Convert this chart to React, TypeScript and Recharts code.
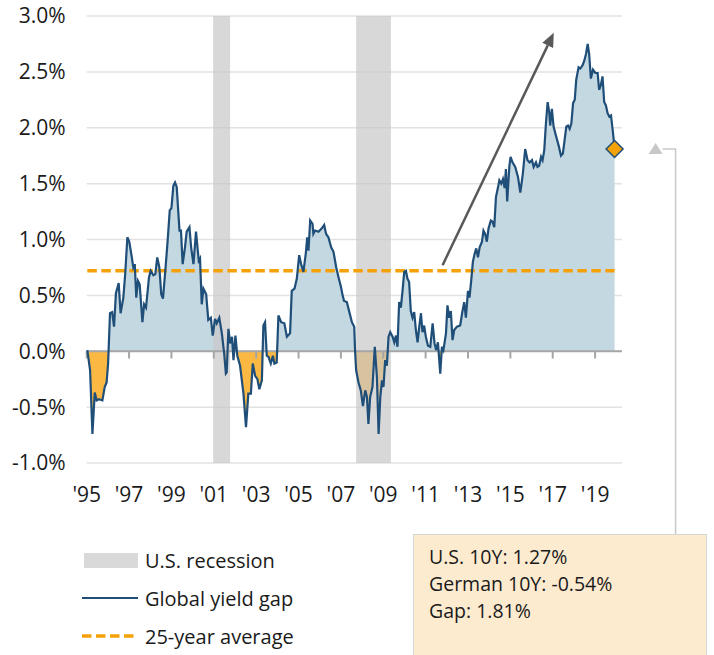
import React from "react";
import {
  Area,
  CartesianGrid,
  ComposedChart,
  Line,
  ReferenceArea,
  ReferenceDot,
  ReferenceLine,
  XAxis,
  YAxis,
} from "recharts";

// monthly-ish readings of the global yield gap (US 10Y minus German 10Y), in %
const YEARS = [
  1995.03, 1995.16, 1995.27, 1995.38, 1995.47, 1995.58, 1995.74, 1995.85, 1995.94, 1996.01,
  1996.1, 1996.2, 1996.29, 1996.38, 1996.51, 1996.6, 1996.73, 1996.82, 1996.92, 1997.01,
  1997.13, 1997.2, 1997.27, 1997.34, 1997.42, 1997.5, 1997.63, 1997.71, 1997.8, 1997.94,
  1998.02, 1998.15, 1998.24, 1998.33, 1998.43, 1998.52, 1998.6, 1998.71, 1998.81, 1998.92,
  1999.0, 1999.09, 1999.17, 1999.25, 1999.38, 1999.45, 1999.53, 1999.64, 1999.72, 1999.85,
  1999.93, 2000.04, 2000.16, 2000.23, 2000.29, 2000.35, 2000.43, 2000.51, 2000.64, 2000.74,
  2000.86, 2000.95, 2001.06, 2001.14, 2001.26, 2001.38, 2001.49, 2001.57, 2001.61, 2001.69,
  2001.77, 2001.86, 2001.93, 2002.02, 2002.11, 2002.24, 2002.4, 2002.52, 2002.63, 2002.75,
  2002.84, 2002.95, 2003.06, 2003.15, 2003.27, 2003.34, 2003.42, 2003.5, 2003.58, 2003.69,
  2003.79, 2003.86, 2003.97, 2004.05, 2004.18, 2004.33, 2004.45, 2004.6, 2004.68, 2004.81,
  2004.92, 2005.03, 2005.12, 2005.23, 2005.34, 2005.41, 2005.47, 2005.55, 2005.66, 2005.7,
  2005.78, 2005.94, 2006.1, 2006.21, 2006.3, 2006.41, 2006.54, 2006.65, 2006.78, 2006.89,
  2007.01, 2007.08, 2007.15, 2007.28, 2007.4, 2007.52, 2007.63, 2007.67, 2007.72, 2007.83,
  2007.94, 2008.04, 2008.15, 2008.23, 2008.3, 2008.38, 2008.49, 2008.6, 2008.7, 2008.78,
  2008.86, 2008.94, 2009.01, 2009.09, 2009.17, 2009.25, 2009.33, 2009.44, 2009.52, 2009.6,
  2009.67, 2009.75, 2009.83, 2009.91, 2009.99, 2010.07, 2010.14, 2010.22, 2010.3, 2010.38,
  2010.46, 2010.54, 2010.62, 2010.7, 2010.78, 2010.85, 2010.93, 2011.01, 2011.11, 2011.22,
  2011.33, 2011.42, 2011.5, 2011.58, 2011.69, 2011.77, 2011.84, 2011.96, 2012.03, 2012.11,
  2012.19, 2012.27, 2012.35, 2012.48, 2012.63, 2012.74, 2012.82, 2012.9, 2013.0, 2013.07,
  2013.15, 2013.23, 2013.31, 2013.39, 2013.47, 2013.55, 2013.66, 2013.73, 2013.81, 2013.89,
  2013.97, 2014.08, 2014.16, 2014.24, 2014.32, 2014.41, 2014.48, 2014.57, 2014.65, 2014.73,
  2014.79, 2014.85, 2014.95, 2015.01, 2015.1, 2015.23, 2015.36, 2015.47, 2015.59, 2015.7,
  2015.81, 2015.91, 2016.02, 2016.1, 2016.21, 2016.28, 2016.36, 2016.45, 2016.52, 2016.6,
  2016.68, 2016.76, 2016.84, 2016.88, 2016.96, 2017.04, 2017.15, 2017.28, 2017.39, 2017.48,
  2017.56, 2017.64, 2017.72, 2017.8, 2017.88, 2017.96, 2018.04, 2018.11, 2018.22, 2018.3,
  2018.41, 2018.49, 2018.57, 2018.65, 2018.72, 2018.8, 2018.9, 2019.01, 2019.12, 2019.19,
  2019.27, 2019.35, 2019.43, 2019.51, 2019.59, 2019.67, 2019.75, 2019.83, 2019.88, 2019.92,
];

const GAP = [
  0.01, -0.17, -0.74, -0.37, -0.44, -0.43, -0.44, -0.32, -0.28, -0.11,
  0.34, 0.35, 0.22, 0.52, 0.61, 0.34, 0.48, 0.7, 1.02, 0.98,
  0.84, 0.75, 0.78, 0.48, 0.63, 0.6, 0.26, 0.42, 0.39, 0.66,
  0.72, 0.68, 0.69, 0.84, 0.75, 0.51, 0.47, 0.72, 0.96, 1.26,
  1.28, 1.48, 1.51, 1.47, 1.08, 1.08, 0.78, 0.93, 1.07, 1.11,
  0.93, 0.78, 1.07, 0.93, 0.81, 0.83, 0.42, 0.56, 0.51, 0.28,
  0.3, 0.14, 0.29, 0.25, 0.3, 0.16, -0.02, -0.2, -0.19, 0.2,
  0.07, 0.13, -0.08, 0.14, -0.04, -0.13, -0.38, -0.68, -0.38, -0.38,
  -0.11, -0.22, -0.25, -0.34, -0.26, 0.23, 0.26, -0.04, -0.05, -0.11,
  -0.04, -0.11, -0.1, 0.32, 0.26, 0.25, 0.13, 0.16, 0.54, 0.56,
  0.65, 0.86, 0.78, 0.71, 0.87, 1.02, 0.9, 1.17, 1.14, 1.05,
  1.08, 1.07, 1.1, 1.13, 1.05, 1.02, 0.93, 0.89, 0.75, 0.66,
  0.57, 0.5, 0.45, 0.44, 0.35, 0.26, 0.22, 0.0, -0.17, -0.28,
  -0.35, -0.49, -0.35, -0.41, -0.65, -0.41, -0.32, 0.04, -0.23, -0.74,
  -0.41, -0.26, -0.32, -0.08, -0.13, 0.13, 0.17, 0.13, 0.08, 0.14,
  0.04, 0.44, 0.39, 0.54, 0.71, 0.72, 0.65, 0.62, 0.36, 0.3,
  0.35, 0.19, 0.08, 0.22, 0.34, 0.17, 0.23, 0.13, 0.05, 0.04,
  0.25, 0.07, 0.01, 0.08, -0.2, 0.04, 0.01, 0.16, 0.41, 0.3,
  0.36, 0.1, 0.19, 0.22, 0.23, 0.36, 0.44, 0.3, 0.54, 0.48,
  0.63, 0.8, 0.87, 0.92, 0.84, 0.93, 0.98, 1.08, 1.05, 0.98,
  1.1, 1.17, 1.16, 1.11, 1.38, 1.46, 1.53, 1.5, 1.54, 1.46,
  1.63, 1.34, 1.65, 1.74, 1.69, 1.65, 1.56, 1.42, 1.59, 1.81,
  1.71, 1.69, 1.71, 1.65, 1.69, 1.65, 1.66, 1.74, 1.71, 1.8,
  2.04, 2.23, 2.13, 2.02, 2.17, 2.01, 1.93, 1.84, 1.75, 1.77,
  1.89, 2.01, 2.02, 1.99, 2.04, 2.22, 2.25, 2.43, 2.54, 2.53,
  2.56, 2.6, 2.66, 2.75, 2.66, 2.44, 2.52, 2.49, 2.49, 2.34,
  2.38, 2.46, 2.23, 2.2, 2.13, 2.1, 2.11, 1.98, 1.89, 1.81,
];

const AVERAGE = 0.72;
const X_TICKS = [1995, 1997, 1999, 2001, 2003, 2005, 2007, 2009, 2011, 2013, 2015, 2017, 2019];
const Y_TICKS = [-1, -0.5, 0, 0.5, 1, 1.5, 2, 2.5, 3];
const RECESSIONS = [
  [2000.97, 2001.77],
  [2007.72, 2009.36],
];
const TREND_ARROW = [
  { x: 2011.8, y: 0.77 },
  { x: 2017.05, y: 2.85 },
];
const CALLOUT_LINES = ["U.S. 10Y: 1.27%", "German 10Y: -0.54%", "Gap: 1.81%"];

const data = YEARS.map((x, i) => ({ x, gap: GAP[i], avg: AVERAGE }));
const last = data[data.length - 1];
const gapMax = Math.max(...GAP);
const gapMin = Math.min(...GAP);
const zeroOffset = gapMax / (gapMax - gapMin);

const FONT = "'Open Sans', sans-serif";
const NAVY = "#1f4e79";
const ORANGE = "#f5a20a";
const BOX_TOP = 534;

function ArrowShape(props: any) {
  const { x1, y1, x2, y2 } = props;
  const ang = Math.atan2(y2 - y1, x2 - x1);
  const len = 14;
  const w = 6;
  const bx = x2 - len * Math.cos(ang);
  const by = y2 - len * Math.sin(ang);
  const px = -Math.sin(ang) * w;
  const py = Math.cos(ang) * w;
  return (
    <g>
      <line x1={x1} y1={y1} x2={bx} y2={by} stroke="#595959" strokeWidth={2.5} />
      <polygon
        points={`${x2},${y2} ${bx + px},${by + py} ${bx - px},${by - py}`}
        fill="#595959"
      />
    </g>
  );
}

function EndMarker(props: any) {
  const { cx, cy } = props;
  const r = 8.5;
  return (
    <g>
      <polyline
        points={`${cx + 48},${cy} ${cx + 61},${cy} ${cx + 61},${BOX_TOP}`}
        fill="none"
        stroke="#c8c8c8"
        strokeWidth={1.5}
      />
      <polygon
        points={`${cx + 41},${cy - 6} ${cx + 48},${cy + 5} ${cx + 34},${cy + 5}`}
        fill="#c8c8c8"
      />
      <polygon
        points={`${cx},${cy - r} ${cx + r},${cy} ${cx},${cy + r} ${cx - r},${cy}`}
        fill={ORANGE}
        stroke={NAVY}
        strokeWidth={1.5}
      />
    </g>
  );
}

function LegendRow({ swatch, label }: { swatch: React.ReactNode; label: string }) {
  return (
    <div style={{ display: "flex", alignItems: "center", height: 38 }}>
      <svg width={58} height={20} style={{ marginRight: 5 }}>
        {swatch}
      </svg>
      <span>{label}</span>
    </div>
  );
}

export default function App() {
  return (
    <div
      style={{
        position: "absolute",
        left: 0,
        top: 0,
        width: 714,
        height: 655,
        overflow: "hidden",
        background: "#fff",
        fontFamily: FONT,
      }}
    >
      <ComposedChart
        width={714}
        height={655}
        data={data}
        margin={{ top: 16, right: 92, bottom: 152, left: 0 }}
      >
        <defs>
          <linearGradient id="gapFill" x1="0" y1="0" x2="0" y2="1">
            <stop offset={zeroOffset} stopColor="#c3d8e0" />
            <stop offset={zeroOffset} stopColor="#fbb944" />
          </linearGradient>
        </defs>
        <CartesianGrid vertical={false} stroke="#e2e2e2" strokeWidth={1.5} />
        <XAxis
          dataKey="x"
          type="number"
          domain={[1995, 2020.27]}
          ticks={X_TICKS}
          tickFormatter={(v: number) => "'" + String(v).slice(2)}
          axisLine={false}
          tickLine={false}
          tickSize={6}
          tickMargin={18}
          height={40}
          tick={{ fontSize: 21, fill: "#1a1a1a", fontFamily: FONT }}
        />
        <YAxis
          type="number"
          domain={[-1, 3]}
          ticks={Y_TICKS}
          tickFormatter={(v: number) => v.toFixed(1) + "%"}
          axisLine={false}
          tickLine={false}
          tickSize={6}
          tickMargin={15}
          width={86.7}
          tick={{ fontSize: 21, fill: "#1a1a1a", fontFamily: FONT }}
        />
        <Area
          type="linear"
          dataKey="gap"
          baseValue={0}
          stroke="none"
          fill="url(#gapFill)"
          fillOpacity={1}
          isAnimationActive={false}
        />
        {RECESSIONS.map(([a, b]) => (
          <ReferenceArea
            key={a}
            x1={a}
            x2={b}
            fill="#c8c8c8"
            fillOpacity={0.7}
            stroke="none"
          />
        ))}
        <ReferenceLine y={0} stroke="#a6a6a6" strokeWidth={2} />
        {X_TICKS.map((t) => (
          <ReferenceLine
            key={t}
            segment={[
              { x: t, y: 0 },
              { x: t, y: -0.065 },
            ]}
            stroke="#a6a6a6"
            strokeWidth={2}
          />
        ))}
        <Line
          type="linear"
          dataKey="avg"
          stroke={ORANGE}
          strokeWidth={3.5}
          strokeDasharray="9.5 4.5"
          dot={false}
          activeDot={false}
          isAnimationActive={false}
        />
        <Line
          type="linear"
          dataKey="gap"
          stroke={NAVY}
          strokeWidth={2.2}
          dot={false}
          activeDot={false}
          isAnimationActive={false}
        />
        <ReferenceLine segment={TREND_ARROW} shape={ArrowShape} />
        <ReferenceDot x={last.x} y={last.gap} r={8} shape={EndMarker} />
      </ComposedChart>

      <div
        style={{
          position: "absolute",
          left: 82,
          top: 541,
          fontSize: 20,
          color: "#1a1a1a",
        }}
      >
        <LegendRow
          label="U.S. recession"
          swatch={<rect x={2} y={3} width={54} height={15} fill="#d9d9d9" />}
        />
        <LegendRow
          label="Global yield gap"
          swatch={<line x1={0} y1={10} x2={56} y2={10} stroke={NAVY} strokeWidth={2} />}
        />
        <LegendRow
          label="25-year average"
          swatch={
            <line
              x1={0}
              y1={10}
              x2={56}
              y2={10}
              stroke={ORANGE}
              strokeWidth={3.5}
              strokeDasharray="9.5 4.5"
            />
          }
        />
      </div>

      <div
        style={{
          position: "absolute",
          left: 413,
          top: BOX_TOP,
          width: 294,
          height: 140,
          background: "#fdebd0",
          border: "1px solid #d6d6d6",
          boxSizing: "border-box",
          padding: "8px 0 0 15px",
          fontSize: 19.5,
          color: "#1a1a1a",
          lineHeight: "27px",
        }}
      >
        {CALLOUT_LINES.map((t) => (
          <div key={t}>{t}</div>
        ))}
      </div>
    </div>
  );
}
